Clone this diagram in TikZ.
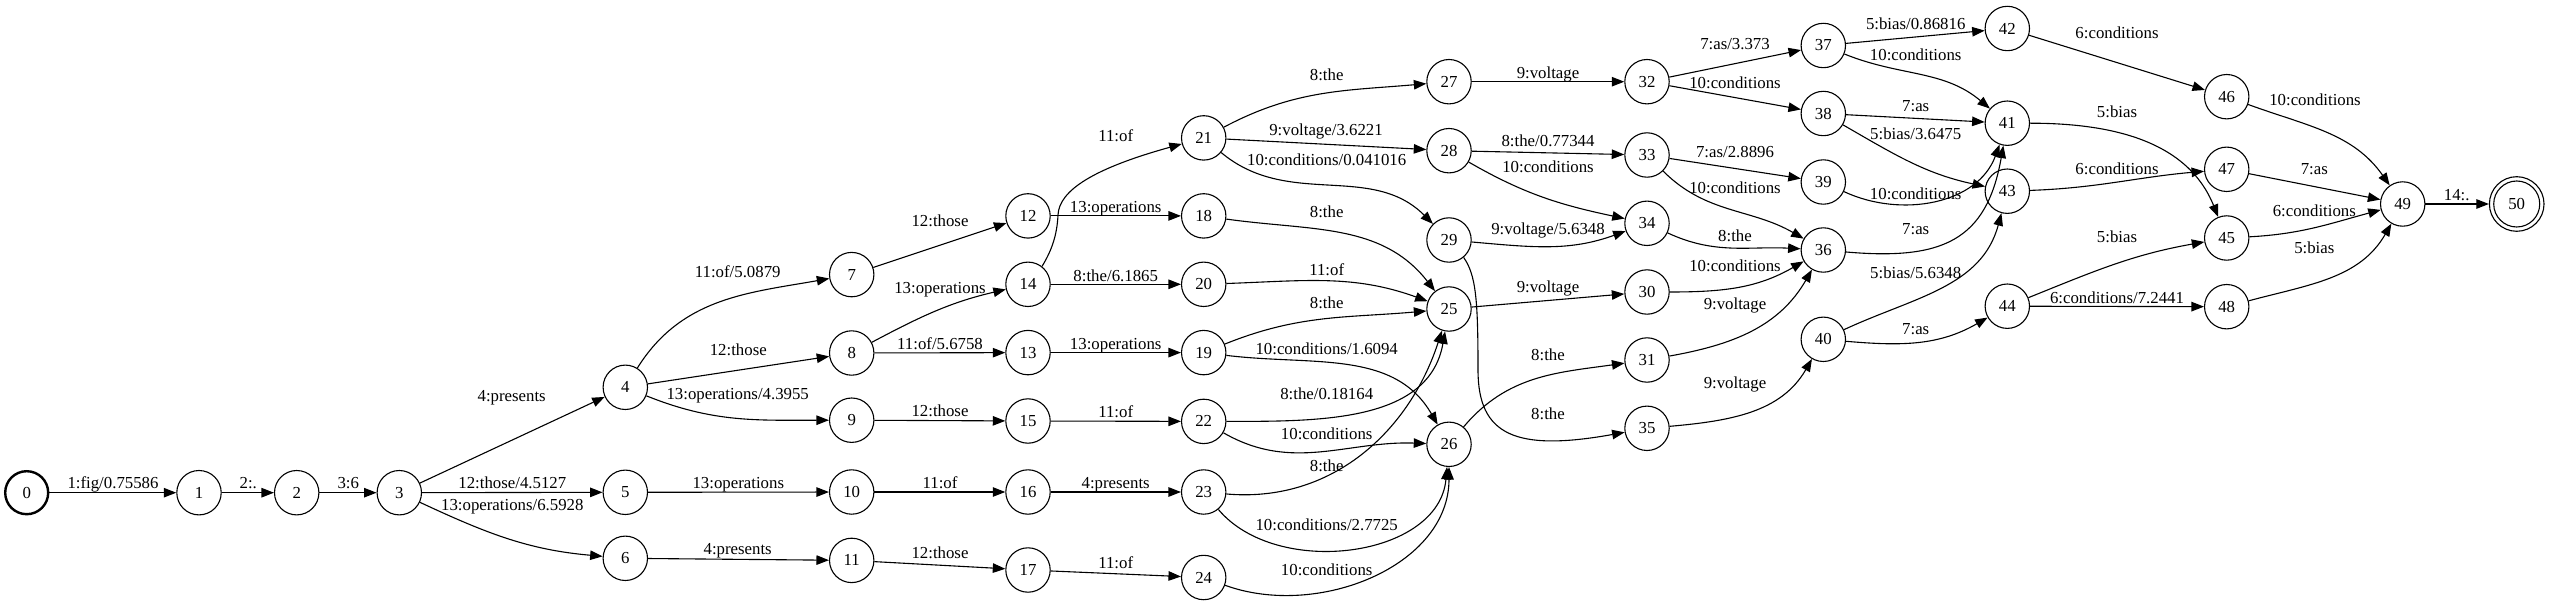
\documentclass[tikz,border=0pt]{standalone}
\usepackage{fontspec}
\setmainfont{Liberation Serif}
\usetikzlibrary{arrows.meta}
\begin{document}
\begin{tikzpicture}[x=1pt,y=1pt,
  st/.style={circle,draw,line width=1.1pt,minimum size=44.4pt,inner sep=0pt,font=\fontsize{16.8}{18}\selectfont},
  e/.style={line width=1.1pt,-{Triangle[length=12.5pt,width=9.5pt]}},
  lb/.style={anchor=base,inner sep=0pt,font=\fontsize{16.8}{18}\selectfont}]
\useasboundingbox (0,0) rectangle (2550,-609);
% nodes
\node[st,line width=2.4pt,minimum size=43pt] (n0) at (26.7,-492.7) {0};
\node[st] (n1) at (199,-492.7) {1};
\node[st] (n2) at (296.7,-492.7) {2};
\node[st] (n3) at (399.3,-492.7) {3};
\node[st] (n4) at (625.3,-387.3) {4};
\node[st] (n5) at (625.3,-492.3) {5};
\node[st] (n6) at (625.3,-558.3) {6};
\node[st] (n7) at (851.7,-274.6) {7};
\node[st] (n8) at (851.7,-353) {8};
\node[st] (n9) at (851.7,-420.2) {9};
\node[st] (n10) at (851.7,-492) {10};
\node[st] (n11) at (851.7,-560.4) {11};
\node[st] (n12) at (1028,-215.9) {12};
\node[st] (n14) at (1028,-284.3) {14};
\node[st] (n13) at (1028,-352.6) {13};
\node[st] (n15) at (1028,-421) {15};
\node[st] (n16) at (1028,-492) {16};
\node[st] (n17) at (1028,-570) {17};
\node[st] (n21) at (1203.7,-137.9) {21};
\node[st] (n18) at (1203.7,-215.9) {18};
\node[st] (n20) at (1203.7,-284.3) {20};
\node[st] (n19) at (1203.7,-352.6) {19};
\node[st] (n22) at (1203.7,-421.4) {22};
\node[st] (n23) at (1203.7,-492) {23};
\node[st] (n24) at (1203.7,-577.5) {24};
\node[st] (n27) at (1449,-81.7) {27};
\node[st] (n28) at (1449,-150.7) {28};
\node[st] (n29) at (1449,-240) {29};
\node[st] (n25) at (1449,-309) {25};
\node[st] (n26) at (1449,-444.3) {26};
\node[st] (n32) at (1647,-81.7) {32};
\node[st] (n33) at (1647,-155) {33};
\node[st] (n34) at (1647,-223.3) {34};
\node[st] (n30) at (1647,-292) {30};
\node[st] (n31) at (1647,-360) {31};
\node[st] (n35) at (1647,-428.3) {35};
\node[st] (n37) at (1823.3,-45.5) {37};
\node[st] (n38) at (1823.3,-113.5) {38};
\node[st] (n39) at (1823.3,-182) {39};
\node[st] (n36) at (1823.3,-250) {36};
\node[st] (n40) at (1823.3,-339.3) {40};
\node[st] (n42) at (2007.3,-28.5) {42};
\node[st] (n41) at (2007.3,-123.2) {41};
\node[st] (n43) at (2007.3,-191.2) {43};
\node[st] (n44) at (2007.3,-306.2) {44};
\node[st] (n46) at (2226.7,-96.7) {46};
\node[st] (n47) at (2226.7,-169.3) {47};
\node[st] (n45) at (2226.7,-238) {45};
\node[st] (n48) at (2226.7,-306.7) {48};
\node[st] (n49) at (2402.7,-204) {49};
\node[st,minimum size=46pt] (n50) at (2516.7,-204) {50};
\node[circle,draw,line width=1.1pt,minimum size=54.6pt,inner sep=0pt] (n50o) at (n50) {};
% edges
\draw[e] (n0) -- (n1);
\draw[e] (n1) -- (n2);
\draw[e] (n2) -- (n3);
\draw[e] (n3) -- (n4);
\draw[e] (n3) -- (n5);
\draw[e] (n3) to[out=-25,in=175] (n6);
\draw[e] (n4) to[out=58,in=190] (n7);
\draw[e] (n4) -- (n8);
\draw[e] (n4) to[out=-22,in=180] (n9);
\draw[e] (n5) -- (n10);
\draw[e] (n6) -- (n11);
\draw[e] (n7) -- (n12);
\draw[e] (n8) to[out=28,in=193] (n14);
\draw[e] (n8) -- (n13);
\draw[e] (n9) -- (n15);
\draw[e] (n10) -- (n16);
\draw[e] (n11) -- (n17);
\draw[e] (n12) -- (n18);
\draw[e] (n14.52) .. controls (1052,-250) and (1057,-235) .. (1058,-215)
   .. controls (1059,-190) and (1095,-168) .. (n21);
\draw[e] (n14) -- (n20);
\draw[e] (n13) -- (n19);
\draw[e] (n15) -- (n22);
\draw[e] (n16) -- (n23);
\draw[e] (n17) -- (n24);
\draw[e] (n21) to[out=28,in=185] (n27);
\draw[e] (n21) -- (n28);
\draw[e] (n21) to[out=-40,in=135] (n29);
\draw[e] (n18) to[out=-8,in=128] (n25);
\draw[e] (n20) to[out=2,in=160] (n25);
\draw[e] (n19) to[out=22,in=185] (n25);
\draw[e] (n19) to[out=-7,in=120] (n26);
\draw[e] (n22) to[out=0,in=-100] (n25);
\draw[e] (n22) to[out=-30,in=178] (n26);
\draw[e] (n23) to[out=-5,in=-108] (n25);
\draw[e] (n23) to[out=-50,in=-95] (n26);
\draw[e] (n24) to[out=-20,in=-90] (n26);
\draw[e] (n27) -- (n32);
\draw[e] (n28) -- (n33);
\draw[e] (n28) to[out=-30,in=168] (n34);
\draw[e] (n29) to[out=-5,in=200] (n34);
\draw[e] (n29.-50) .. controls (1476,-275) and (1478,-300) .. (1478,-370)
   .. controls (1478,-435) and (1515,-452) .. (n35);
\draw[e] (n25) -- (n30);
\draw[e] (n26) to[out=50,in=188] (n31);
\draw[e] (n32) -- (n37);
\draw[e] (n32) -- (n38);
\draw[e] (n33) -- (n39);
\draw[e] (n33) to[out=-45,in=150] (n36);
\draw[e] (n34) to[out=-25,in=177] (n36);
\draw[e] (n30) to[out=0,in=210] (n36);
\draw[e] (n31) to[out=10,in=-120] (n36);
\draw[e] (n35) to[out=5,in=-120] (n40);
\draw[e] (n37) -- (n42);
\draw[e] (n37) to[out=-22,in=140] (n41);
\draw[e] (n38) -- (n41);
\draw[e] (n38) to[out=-30,in=168] (n43);
\draw[e] (n39) to[out=-25,in=-110] (n41);
\draw[e] (n36) to[out=-5,in=-100,looseness=1.3] (n41);
\draw[e] (n40) to[out=25,in=-105] (n43);
\draw[e] (n40) to[out=-5,in=-150] (n44);
\draw[e] (n42) -- (n46);
\draw[e] (n41) to[out=0,in=112] (n45);
\draw[e] (n43) to[out=2,in=185] (n47);
\draw[e] (n44) to[out=22,in=190] (n45);
\draw[e] (n44) -- (n48);
\draw[e] (n46) to[out=-20,in=125] (n49);
\draw[e] (n47) -- (n49);
\draw[e] (n45) to[out=3,in=195] (n49);
\draw[e] (n48) to[out=15,in=-120] (n49);
\draw[e] (n49) -- (n50o);
% labels
\node[lb] (l01) at (113,-488.3) {1:fig/0.75586};
\node[lb] (l12) at (248.3,-488.3) {2:.};
\node[lb] (l23) at (348.3,-488.3) {3:6};
\node[lb] (l34) at (511.7,-401) {4:presents};
\node[lb] (l35) at (512.3,-488.3) {12:those/4.5127};
\node[lb] (l36) at (512.3,-510.7) {13:operations/6.5928};
\node[lb] (l47) at (737.7,-277.7) {11:of/5.0879};
\node[lb] (l48) at (738.3,-355.3) {12:those};
\node[lb] (l49) at (737.7,-399.3) {13:operations/4.3955};
\node[lb] (l510) at (738.3,-488.3) {13:operations};
\node[lb] (l611) at (737.7,-554.3) {4:presents};
\node[lb] (l712) at (940,-226.4) {12:those};
\node[lb] (l814) at (940,-293.5) {13:operations};
\node[lb] (l813) at (940,-349.5) {11:of/5.6758};
\node[lb] (l915) at (940,-416.7) {12:those};
\node[lb] (l1016) at (940,-488.5) {11:of};
\node[lb] (l1117) at (940,-558.4) {12:those};
\node[lb] (l1421) at (1115.7,-141.7) {11:of};
\node[lb] (l1218) at (1115.7,-212.8) {13:operations};
\node[lb] (l1420) at (1115.7,-281.5) {8:the/6.1865};
\node[lb] (l1319) at (1115.7,-349.5) {13:operations};
\node[lb] (l1522) at (1115.7,-417.8) {11:of};
\node[lb] (l1623) at (1115.7,-488.5) {4:presents};
\node[lb] (l1724) at (1115.7,-568.1) {11:of};
\node[lb] (l2127) at (1326.7,-80.7) {8:the};
\node[lb] (l2128) at (1326,-135.5) {9:voltage/3.6221};
\node[lb] (l2129) at (1326.7,-165.4) {10:conditions/0.041016};
\node[lb] (l1825) at (1326.7,-217.4) {8:the};
\node[lb] (l2025) at (1326.7,-276) {11:of};
\node[lb] (l1925) at (1326.7,-309) {8:the};
\node[lb] (l1926) at (1326.7,-354.5) {10:conditions/1.6094};
\node[lb] (l2225) at (1326.7,-399.2) {8:the/0.18164};
\node[lb] (l2226) at (1326.7,-439.2) {10:conditions};
\node[lb] (l2325) at (1326.7,-471) {8:the};
\node[lb] (l2326) at (1326.7,-530) {10:conditions/2.7725};
\node[lb] (l2426) at (1326.7,-575.9) {10:conditions};
\node[lb] (l2732) at (1548,-78.5) {9:voltage};
\node[lb] (l2833) at (1548,-146.5) {8:the/0.77344};
\node[lb] (l2834) at (1548,-172.2) {10:conditions};
\node[lb] (l2934) at (1548,-235) {9:voltage/5.6348};
\node[lb] (l2530) at (1548,-292.6) {9:voltage};
\node[lb] (l2631) at (1548,-360.7) {8:the};
\node[lb] (l2935) at (1548,-419.3) {8:the};
\node[lb] (l3237) at (1735,-50) {7:as/3.373};
\node[lb] (l3238) at (1735,-88.5) {10:conditions};
\node[lb] (l3339) at (1735,-157.2) {7:as/2.8896};
\node[lb] (l3336) at (1735,-193.3) {10:conditions};
\node[lb] (l3436) at (1735,-241.9) {8:the};
\node[lb] (l3036) at (1735,-271.4) {10:conditions};
\node[lb] (l3136) at (1735,-309.9) {9:voltage};
\node[lb] (l3540) at (1735,-388.7) {9:voltage};
\node[lb] (l3742) at (1915.7,-29.3) {5:bias/0.86816};
\node[lb] (l3741) at (1915.7,-60.7) {10:conditions};
\node[lb] (l3841) at (1915.7,-111.7) {7:as};
\node[lb] (l3843) at (1915.7,-140) {5:bias/3.6475};
\node[lb] (l3941) at (1915.7,-199.3) {10:conditions};
\node[lb] (l3641) at (1915.7,-234.3) {7:as};
\node[lb] (l4043) at (1915.7,-279) {5:bias/5.6348};
\node[lb] (l4044) at (1915.7,-335) {7:as};
\node[lb] (l4246) at (2117,-38.8) {6:conditions};
\node[lb] (l4145) at (2117,-117.6) {5:bias};
\node[lb] (l4347) at (2117,-174.7) {6:conditions};
\node[lb] (l4445) at (2117,-242.7) {5:bias};
\node[lb] (l4448) at (2117,-303.3) {6:conditions/7.2441};
\node[lb] (l4649) at (2315,-105.7) {10:conditions};
\node[lb] (l4749) at (2314.3,-174.3) {7:as};
\node[lb] (l4549) at (2314.3,-216.7) {6:conditions};
\node[lb] (l4849) at (2314.3,-253.3) {5:bias};
\node[lb] (l4950) at (2456.7,-201) {14:.};
\end{tikzpicture}
\end{document}
